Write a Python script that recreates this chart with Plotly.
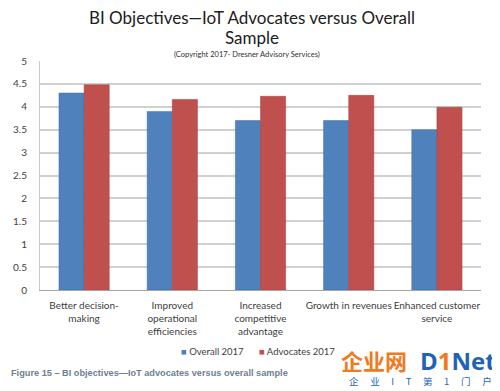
import plotly.graph_objects as go

categories = ["Better decision-<br>making", "Improved<br>operational<br>efficiencies",
              "Increased<br>competitive<br>advantage", "Growth in revenues",
              "Enhanced customer<br>service"]
overall_2017 = [4.3, 3.9, 3.7, 3.7, 3.5]
advocates_2017 = [4.48, 4.16, 4.23, 4.25, 3.99]
y_ticks = [0, 0.5, 1, 1.5, 2, 2.5, 3, 3.5, 4, 4.5, 5]
y_tick_labels = ["0", "0.5", "1", "1.5", "2", "2.5", "3", "3.5", "4", "4.5", "5"]

OFF = 8  # page body margin
W, H = 500 - OFF, 391 - OFF
def py(px):
    return 1 - (px - OFF) / H
def pxx(px):
    return (px - OFF) / W

BLUE = "#4F81BD"
RED = "#C0504D"

fig = go.Figure()
fig.add_trace(go.Bar(name="Overall 2017", x=categories, y=overall_2017, showlegend=False,
                     marker=dict(color=BLUE, line=dict(color="#41719C", width=0.5))))
fig.add_trace(go.Bar(name="Advocates 2017", x=categories, y=advocates_2017, showlegend=False,
                     marker=dict(color=RED, line=dict(color="#A0413E", width=0.5))))

font_main = "Lato, Carlito, 'Open Sans', sans-serif"

fig.update_layout(
    width=W, height=H,
    margin=dict(l=0, r=0, t=0, b=0, autoexpand=False),
    paper_bgcolor="white", plot_bgcolor="white",
    barmode="group", bargap=0.43, bargroupgap=0,
    font=dict(family=font_main, color="#404040", size=10),
    showlegend=False,
    xaxis=dict(domain=[pxx(40), pxx(481)], showline=True, linecolor="#A6A6A6", linewidth=1,
               ticks="", tickangle=0, automargin=False, ticklabelstandoff=6,
               tickfont=dict(size=10, color="#404040"), showgrid=False),
    yaxis=dict(domain=[py(290), py(61)], range=[0, 5], tickvals=y_ticks, ticktext=y_tick_labels,
               showgrid=True, gridcolor="#D0D0D0", gridwidth=1.5, zeroline=False,
               showline=True, linecolor="#C8C8C8", linewidth=1, automargin=False,
               ticks="", tickfont=dict(size=10, color="#404040"), ticklabelstandoff=10),
)

anns = [
    dict(text="BI Objectives\u2014IoT Advocates versus Overall", x=pxx(252), y=py(17), size=17, color="#202020"),
    dict(text="Sample", x=pxx(252), y=py(38), size=17, color="#202020"),
    dict(text="(Copyright 2017- Dresner Advisory Services)", x=pxx(247), y=py(54), size=7.5, color="#303030"),
]
for a in anns:
    fig.add_annotation(text=a["text"], x=a["x"], y=a["y"], xref="paper", yref="paper",
                       xanchor="center", yanchor="middle", showarrow=False,
                       font=dict(family=font_main, size=a["size"], color=a["color"]))

# legend drawn as text
fig.add_annotation(text=f"<span style='color:{BLUE}'>\u25A0</span> Overall 2017",
                   x=pxx(179), y=py(351), xref="paper", yref="paper", xanchor="left", yanchor="middle",
                   showarrow=False, font=dict(family=font_main, size=9.5, color="#404040"))
fig.add_annotation(text=f"<span style='color:{RED}'>\u25A0</span> Advocates 2017",
                   x=pxx(257), y=py(351), xref="paper", yref="paper", xanchor="left", yanchor="middle",
                   showarrow=False, font=dict(family=font_main, size=9.5, color="#404040"))

fig.add_annotation(text="<b>Figure 15 \u2013 BI objectives\u2014IoT advocates versus overall sample</b>",
                   x=pxx(9), y=py(373), xref="paper", yref="paper", xanchor="left", yanchor="middle",
                   showarrow=False, font=dict(family="'Liberation Sans', Arial, sans-serif", size=9.2, color="#6F7F93"))

# watermark logo
fig.add_annotation(text="<b>企业网</b>", x=pxx(339), y=py(360), xref="paper", yref="paper",
                   xanchor="left", yanchor="middle", showarrow=False,
                   font=dict(family="'Noto Sans CJK SC'", size=22, color="#F07A1E"))
fig.add_annotation(text="<b>D<span style='color:#F07A1E'>1</span>Net</b>", x=pxx(498), y=py(360), xref="paper", yref="paper",
                   xanchor="right", yanchor="middle", showarrow=False,
                   font=dict(family="'Open Sans', sans-serif", size=24, color="#1E63B5"))
fig.add_annotation(text="企　 业　 I　 T　 第　 1　 门　 户", x=pxx(420), y=py(381), xref="paper", yref="paper",
                   xanchor="center", yanchor="middle", showarrow=False,
                   font=dict(family="'Noto Sans CJK SC'", size=9.5, color="#1E63B5"))

fig.write_html("out.html")
